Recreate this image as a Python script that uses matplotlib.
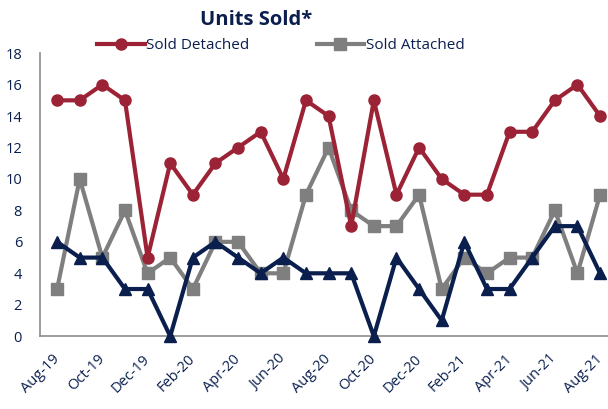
import numpy as np
import matplotlib.pyplot as plt
from matplotlib.lines import Line2D

plt.rcParams['font.family'] = ['Open Sans', 'DejaVu Sans']

# monthly series, Aug-19 .. Aug-21
months = ["Aug-19", "Sep-19", "Oct-19", "Nov-19", "Dec-19", "Jan-20", "Feb-20",
          "Mar-20", "Apr-20", "May-20", "Jun-20", "Jul-20", "Aug-20", "Sep-20",
          "Oct-20", "Nov-20", "Dec-20", "Jan-21", "Feb-21", "Mar-21", "Apr-21",
          "May-21", "Jun-21", "Jul-21", "Aug-21"]
sold_detached = [15, 15, 16, 15, 5, 11, 9, 11, 12, 13, 10, 15, 14, 7, 15, 9, 12,
                 10, 9, 9, 13, 13, 15, 16, 14]
sold_attached = [3, 10, 5, 8, 4, 5, 3, 6, 6, 4, 4, 9, 12, 8, 7, 7, 9, 3, 5, 4, 5,
                 5, 8, 4, 9]
sold_other = [6, 5, 5, 3, 3, 0, 5, 6, 5, 4, 5, 4, 4, 4, 0, 5, 3, 1, 6, 3, 3, 5,
              7, 7, 4]

RED = "#9b2335"
GRAY = "#7f7f7f"
NAVY = "#0a1f4e"

fig = plt.figure(figsize=(6.08, 4.09), dpi=100)
ax = fig.add_axes([0.066, 0.178, 0.934, 0.692])

x = np.arange(len(months))
ax.plot(x, sold_detached, color=RED, lw=3, marker="o", ms=8, zorder=3)
ax.plot(x, sold_attached, color=GRAY, lw=3, marker="s", ms=8, zorder=2)
ax.plot(x, sold_other, color=NAVY, lw=3, marker="^", ms=9, zorder=4,
        clip_on=False)

ax.set_xlim(-0.75, 24.35)
ax.set_ylim(0, 18)
ax.set_yticks(range(0, 19, 2))
ax.set_xticks(x[::2])
ax.set_xticklabels(months[::2], rotation=45, ha="right", va="center",
                   rotation_mode="anchor")
ax.tick_params(axis="both", length=0, labelcolor=NAVY)
ax.tick_params(axis="x", pad=15, labelsize=10.5)
ax.tick_params(axis="y", pad=13, labelsize=10.5)

for side in ("top", "right"):
    ax.spines[side].set_visible(False)
for side in ("left", "bottom"):
    ax.spines[side].set_color("#8c8c8c")
    ax.spines[side].set_linewidth(1.2)

handles = [Line2D([], [], color=RED, lw=3, marker="o", ms=8),
           Line2D([], [], color=GRAY, lw=3, marker="s", ms=8)]
fig.legend(handles, ["Sold Detached", "Sold Attached"], loc="center",
           bbox_to_anchor=(0.462, 0.888), ncol=2, frameon=False, fontsize=11,
           labelcolor=NAVY, handlelength=3.1, handletextpad=0.1,
           columnspacing=4.4)

fig.suptitle("Units Sold*", x=0.421, y=0.975, fontsize=14.5, fontweight="bold",
             color=NAVY)

fig.savefig("out.png", dpi=100)
